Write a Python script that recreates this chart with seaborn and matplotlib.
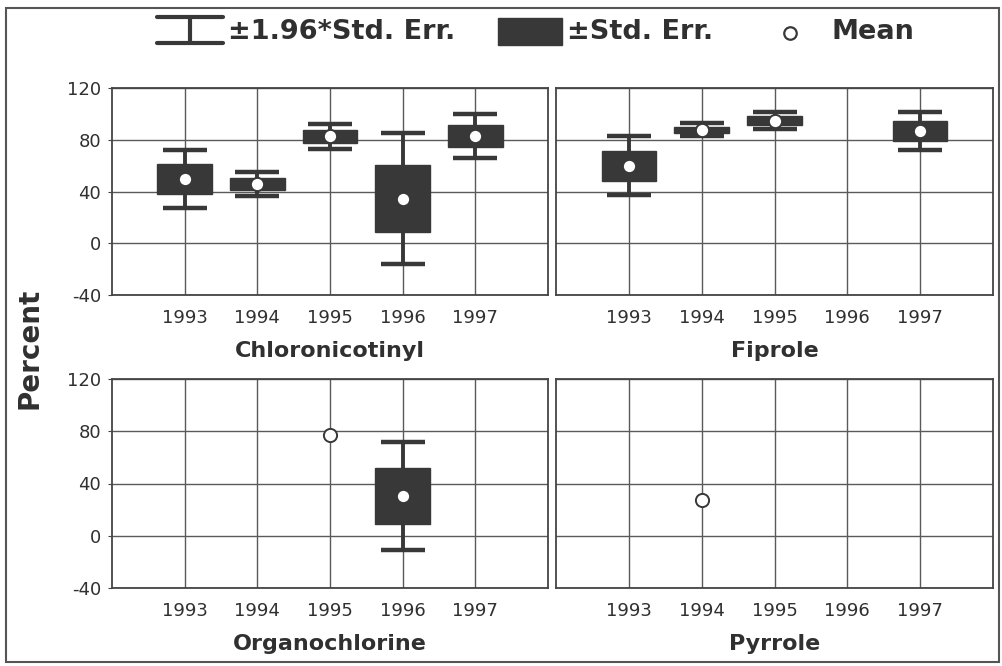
import matplotlib
matplotlib.use("Agg")
import matplotlib.pyplot as plt
import numpy as np
import pandas as pd
import seaborn as sns
from matplotlib.patches import Rectangle

# Data (mean and standard error per year, % )
years = [1993, 1994, 1995, 1996, 1997]
groups = ["Chloronicotinyl", "Fiprole", "Organochlorine", "Pyrrole"]
nan = np.nan

chloro_mean = [49.5, 45.8, 82.6, 34.5, 82.8]
chloro_se = [11.4, 4.9, 4.9, 25.8, 8.75]
fiprole_mean = [60.0, 87.7, 94.8, nan, 86.9]
fiprole_se = [11.5, 2.5, 3.2, nan, 7.5]
organo_mean = [nan, nan, 77.2, 30.5, nan]
organo_se = [nan, nan, nan, 21.2, nan]
pyrrole_mean = [nan, 27.3, nan, nan, nan]
pyrrole_se = [nan, nan, nan, nan, nan]

means = [chloro_mean, fiprole_mean, organo_mean, pyrrole_mean]
ses = [chloro_se, fiprole_se, organo_se, pyrrole_se]

rows = []
for g, m_list, s_list in zip(groups, means, ses):
    for y, m, s in zip(years, m_list, s_list):
        rows.append({"group": g, "year": y, "mean": m, "se": s})
df = pd.DataFrame(rows)

sns.set_style("white")
plt.rcParams['font.family'] = ['DejaVu Sans']
plt.rcParams['axes.unicode_minus'] = False

dark = "#383838"
txt = "#303030"
W, H = 1002, 666

fig = plt.figure(figsize=(10.02, 6.66), dpi=100)

# panel positions in pixels: left, top, right, bottom
boxes = [(112, 88, 548, 295), (556, 88, 993, 295),
         (112, 379, 548, 588), (556, 379, 993, 588)]

for i, g in enumerate(groups):
    l, t, r, b = boxes[i]
    ax = fig.add_axes([l / W, 1 - b / H, (r - l) / W, (b - t) / H])
    d = df[df["group"] == g]
    dse = d.dropna(subset=["se"])

    # +-1.96 SE whiskers
    ax.errorbar(dse["year"], dse["mean"], yerr=1.96 * dse["se"], fmt="none",
                ecolor=dark, elinewidth=2.8, capsize=16, capthick=3.2, zorder=3)
    # +-SE boxes
    ax.bar(dse["year"], 2 * dse["se"], bottom=dse["mean"] - dse["se"],
           width=0.75, color=dark, edgecolor=dark, zorder=4)
    # means
    sns.scatterplot(data=d.dropna(subset=["mean"]), x="year", y="mean", ax=ax,
                    s=90, color="white", edgecolor=dark, linewidth=1.4, zorder=5)

    ax.set_xlim(1992, 1998)
    ax.set_ylim(-40, 120)
    ax.set_xticks(years)
    ax.set_yticks([-40, 0, 40, 80, 120])
    ax.grid(True, color="#5a5a5a", linewidth=1.0)
    ax.set_axisbelow(True)
    for sp in ax.spines.values():
        sp.set_color("#444444")
        sp.set_linewidth(1.3)
    ax.tick_params(axis="x", length=0, pad=10, labelsize=13, labelcolor=txt)
    ax.tick_params(axis="y", length=3, pad=5, labelsize=13, labelcolor=txt,
                   color="#444444", left=True)
    if i % 2 == 1:
        ax.tick_params(axis="y", labelleft=False, length=0)
    ax.set_ylabel("")
    ax.set_xlabel(g, fontsize=16, fontweight="bold", color=txt, labelpad=10)

fig.text(30 / W, 1 - 348 / H, "Percent", rotation=90, ha="center", va="center",
         fontsize=20, fontweight="bold", color=txt)

# legend and frame drawn on an overlay in pixel coordinates
lg = fig.add_axes([0, 0, 1, 1], facecolor="none")
lg.set_xlim(0, W)
lg.set_ylim(H, 0)
lg.axis("off")
lg.add_patch(Rectangle((6, 8), 993, 654, fill=False, edgecolor="#555555", lw=1.5))
lg.plot([157, 223], [17, 17], color=dark, lw=3)
lg.plot([157, 223], [43, 43], color=dark, lw=3)
lg.plot([190, 190], [17, 43], color=dark, lw=3)
lg.text(228, 32, "±1.96*Std. Err.", va="center", ha="left", fontsize=19.5,
        fontweight="bold", color=txt)
lg.add_patch(Rectangle((498, 18), 64, 27, color=dark))
lg.text(567, 32, "±Std. Err.", va="center", ha="left", fontsize=19.5,
        fontweight="bold", color=txt)
lg.plot([790], [33], marker="o", ms=9, mfc="white", mec=dark, mew=1.6)
lg.text(832, 32, "Mean", va="center", ha="left", fontsize=19.5,
        fontweight="bold", color=txt)

fig.savefig("out.png", dpi=100)
